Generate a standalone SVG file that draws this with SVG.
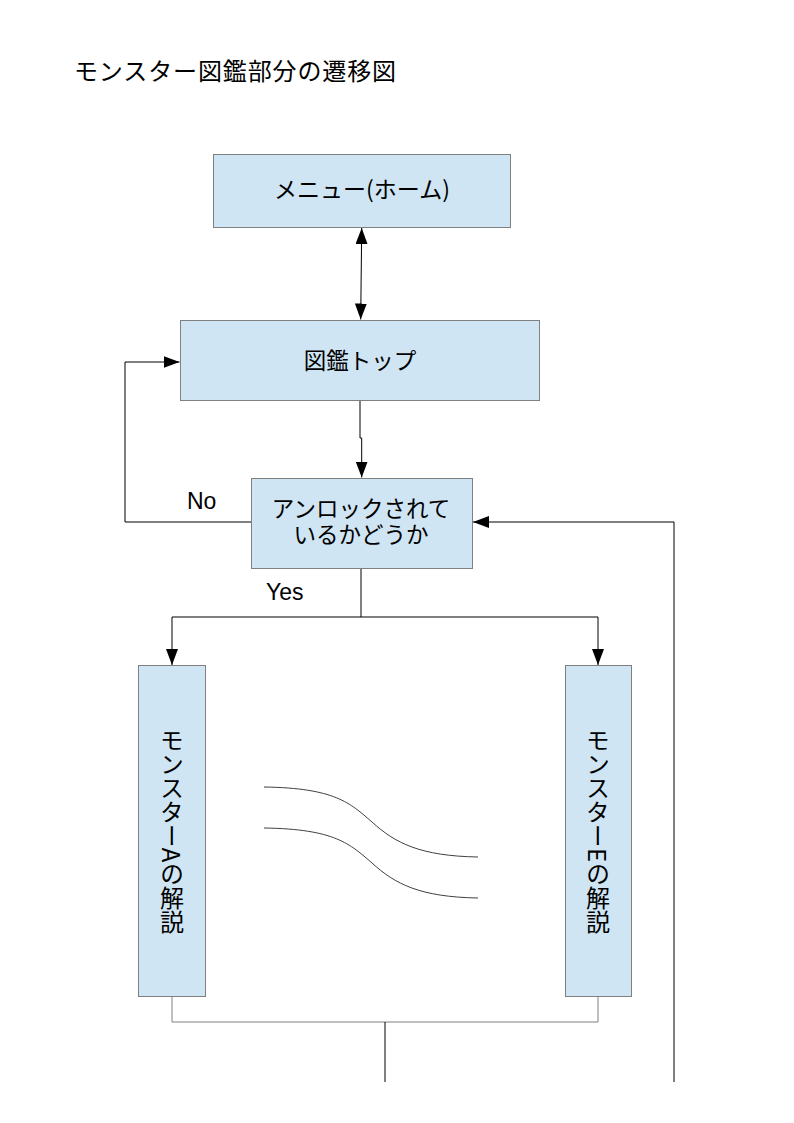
<svg xmlns="http://www.w3.org/2000/svg" width="794" height="1123" viewBox="0 0 794 1123">
  <style>
    .box { fill: #cfe5f3; stroke: #808080; stroke-width: 1; }
    .jp { font-family: "Noto Sans CJK JP", "Liberation Sans", sans-serif; fill: #000; }
    .lbl { font-family: "Liberation Sans", Arial, sans-serif; fill: #000; font-size: 23px; }
    .edge { fill: none; stroke: #000; stroke-width: 1; }
    .gray { fill: none; stroke: #808080; stroke-width: 1; }
    .wave { fill: none; stroke: #404040; stroke-width: 1; }
    .vt { writing-mode: vertical-rl; font-size: 24px; text-anchor: middle; }
  </style>
  <defs>
    <marker id="arrow" markerUnits="userSpaceOnUse" markerWidth="16" markerHeight="12" refX="16" refY="6" orient="auto-start-reverse">
      <path d="M0,0 L16,6 L0,12 Z" fill="#000"/>
    </marker>
  </defs>
  <rect width="794" height="1123" fill="#fff"/>

  <text class="jp" x="74" y="80" font-size="24" textLength="322" lengthAdjust="spacing">モンスター図鑑部分の遷移図</text>

  <g id="connectors">
    <line class="edge" x1="361.7" y1="228" x2="360.7" y2="319.5" marker-start="url(#arrow)" marker-end="url(#arrow)"/>
    <path class="edge" d="M360,401 V438 H361.7 V477.5" marker-end="url(#arrow)"/>
    <path class="edge" d="M251,522 H125 V362 H179.5" marker-end="url(#arrow)"/>
    <path class="edge" d="M674,1082 V522 H473" marker-end="url(#arrow)"/>
    <path class="edge" d="M361,568 V617 H172 V665" marker-end="url(#arrow)"/>
    <path class="edge" d="M361,617 H598 V665" marker-end="url(#arrow)"/>
    <path class="gray" d="M172,997 V1022 H598 V997"/>
    <line class="edge" x1="385" y1="1022" x2="385" y2="1082"/>
    <text class="lbl" x="187" y="509">No</text>
    <text class="lbl" x="266" y="600">Yes</text>
  </g>

  <g id="menu">
    <rect class="box" x="213.5" y="154.5" width="297" height="73"/>
    <text class="jp" x="362" y="198" font-size="23" text-anchor="middle">メニュー(ホーム)</text>
  </g>

  <g id="zukan-top">
    <rect class="box" x="180.5" y="320.5" width="359" height="80"/>
    <text class="jp" x="360" y="369" font-size="22.5" text-anchor="middle">図鑑トップ</text>
  </g>

  <g id="unlock-check">
    <rect class="box" x="251.5" y="478.5" width="221" height="90"/>
    <text class="jp" font-size="22.5" text-anchor="middle"><tspan x="361" y="517">アンロックされて</tspan><tspan x="361" y="543">いるかどうか</tspan></text>
  </g>

  <g id="monster-a">
    <rect class="box" x="138.5" y="665.5" width="67" height="331"/>
    <text class="jp vt" x="172" y="831">モンスターAの解説</text>
  </g>

  <g id="monster-e">
    <rect class="box" x="565.5" y="665.5" width="66" height="331"/>
    <text class="jp vt" x="598" y="831">モンスターEの解説</text>
  </g>

  <g id="omission">
    <path class="wave" d="M264,787 C335,788 350,803 372,822 C395,843 420,856 478,857"/>
    <path class="wave" d="M264,828 C335,829 350,844 372,863 C395,884 420,897 478,898"/>
  </g>
</svg>
